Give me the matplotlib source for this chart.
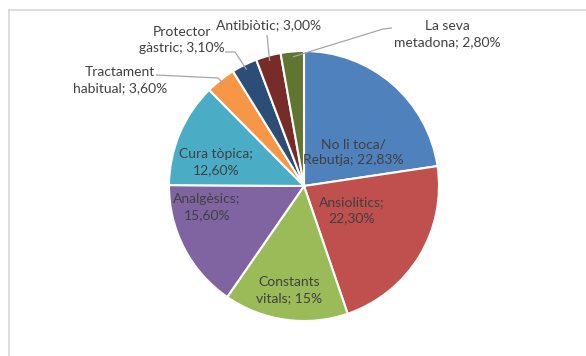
import matplotlib
matplotlib.use("Agg")
import matplotlib.pyplot as plt
import numpy as np

categories = ["No li toca/\nRebutja", "Ansiolítics", "Constants\nvitals", "Analgèsics",
              "Cura tòpica", "Tractament\nhabitual", "Protector\ngàstric", "Antibiòtic",
              "La seva\nmetadona"]
values = [22.83, 22.30, 15.0, 15.60, 12.60, 3.60, 3.10, 3.00, 2.80]
value_labels = ["22,83%", "22,30%", "15%", "15,60%", "12,60%", "3,60%", "3,10%", "3,00%", "2,80%"]
colors = ["#4F81BD", "#C0504D", "#9BBB59", "#8064A2", "#4BACC6", "#F79646",
          "#2C4D75", "#772C2A", "#5F7530"]

W, H = 586, 356
fig = plt.figure(figsize=(W / 100, H / 100), dpi=100)
fig.patch.set_facecolor("white")

cx, cy, R = 304, 186, 135
ax = fig.add_axes([(cx - R) / W, 1 - (cy + R) / H, 2 * R / W, 2 * R / H])

fig.add_artist(plt.Line2D([9 / W, 9 / W], [0, 1 - 10 / H], color="#D9D9D9", lw=1.2))
fig.add_artist(plt.Line2D([9 / W, 1], [1 - 10 / H, 1 - 10 / H], color="#D9D9D9", lw=1.2))

wedges, _ = ax.pie(values, colors=colors, startangle=90, counterclock=False, radius=1.0,
                   wedgeprops=dict(edgecolor="white", linewidth=1.5))
ax.set_xlim(-1, 1)
ax.set_ylim(-1, 1)
ax.set_aspect("equal")
ax.axis("off")

font = dict(family=["Lato", "DejaVu Sans"], fontsize=10, color="#404040")

def px2d(px, py):
    return ((px - cx) / R, (cy - py) / R)

label_pos = [(353, 152), (352, 210), (289, 290), (207, 207), (216, 162),
             (120, 80), (182, 40), (269, 25), (447, 34)]
outside = [False, False, False, False, False, True, True, True, True]
line_paths = {
    5: [(156, 75), (218, 78)],
    6: [(225, 52), (235, 52)],
    7: [(267, 35), (267, 35)],
    8: [(392, 28), (383, 29)],
}

for i, w in enumerate(wedges):
    if "\n" in categories[i]:
        txt = f"{categories[i]}; {value_labels[i]}"
    else:
        txt = f"{categories[i]}; {value_labels[i]}" if outside[i] else f"{categories[i]};\n{value_labels[i]}"
    tx, ty = px2d(*label_pos[i])
    ax.text(tx, ty, txt, ha="center", va="center", linespacing=1.35, **font)
    if outside[i]:
        ang = np.deg2rad((w.theta1 + w.theta2) / 2)
        ex, ey = 0.96 * np.cos(ang), 0.96 * np.sin(ang)
        (ax1, ay1), (ax2, ay2) = line_paths[i]
        p1 = px2d(ax1, ay1)
        p2 = px2d(ax2, ay2)
        ax.plot([p1[0], p2[0], ex], [p1[1], p2[1], ey], color="#A6A6A6", lw=0.9,
                clip_on=False, solid_capstyle="butt")

fig.savefig("out.png", dpi=100, facecolor="white")
